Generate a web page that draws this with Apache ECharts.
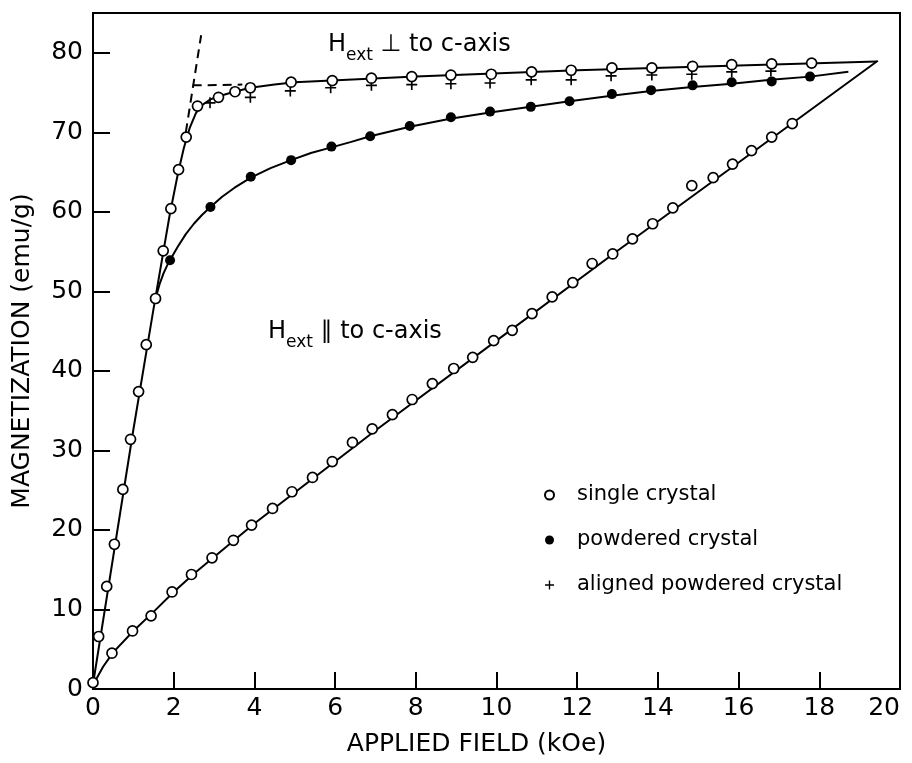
<!DOCTYPE html>
<html><head><meta charset="utf-8">
<script src="https://cdn.jsdelivr.net/npm/echarts@6/dist/echarts.min.js"></script>
<style>html,body{margin:0;padding:0;background:#fff}#c{width:912px;height:763px}</style>
</head><body><div id="c"></div>
<script>
// ---- tick values ----
const xTicks = [0, 2, 4, 6, 8, 10, 12, 14, 16, 18, 20];
const yTicks = [0, 10, 20, 30, 40, 50, 60, 70, 80];

// ---- measured points: single crystal, H perpendicular to c-axis ----
const singlePerp = [
  [0.00, 0.8], [0.14, 6.6], [0.34, 12.9], [0.53, 18.2], [0.74, 25.1], [0.93, 31.4],
  [1.13, 37.4], [1.32, 43.3], [1.55, 49.1], [1.74, 55.1], [1.93, 60.4], [2.12, 65.3],
  [2.31, 69.4], [2.59, 73.3], [3.11, 74.4], [3.52, 75.1], [3.90, 75.6], [4.91, 76.3],
  [5.93, 76.5], [6.90, 76.8], [7.90, 77.0], [8.87, 77.2], [9.87, 77.3], [10.87, 77.6],
  [11.85, 77.8], [12.86, 78.1], [13.85, 78.1], [14.86, 78.3], [15.83, 78.5], [16.82, 78.6],
  [17.81, 78.7]
];
// ---- single crystal, H parallel to c-axis ----
const singlePar = [
  [0.47, 4.5], [0.98, 7.3], [1.44, 9.2], [1.96, 12.2], [2.44, 14.4], [2.95, 16.5],
  [3.48, 18.7], [3.93, 20.6], [4.45, 22.7], [4.93, 24.8], [5.44, 26.6], [5.93, 28.6],
  [6.43, 31.0], [6.92, 32.7], [7.42, 34.5], [7.91, 36.4], [8.41, 38.4], [8.94, 40.3],
  [9.41, 41.7], [9.93, 43.8], [10.39, 45.1], [10.88, 47.2], [11.38, 49.3], [11.89, 51.1],
  [12.37, 53.5], [12.88, 54.7], [13.37, 56.6], [13.87, 58.5], [14.37, 60.5], [14.84, 63.3],
  [15.37, 64.3], [15.85, 66.0], [16.32, 67.7], [16.82, 69.4], [17.33, 71.1]
];
// ---- powdered crystal ----
const powdered = [
  [1.91, 53.9], [2.91, 60.6], [3.91, 64.4], [4.91, 66.5], [5.91, 68.2], [6.87, 69.5],
  [7.85, 70.8], [8.87, 71.9], [9.84, 72.6], [10.85, 73.2], [11.81, 73.9], [12.86, 74.8],
  [13.83, 75.3], [14.86, 75.9], [15.83, 76.3], [16.82, 76.4], [17.77, 77.0]
];
// ---- aligned powdered crystal ----
const aligned = [
  [2.90, 73.7], [3.90, 74.4], [4.89, 75.2], [5.89, 75.6], [6.90, 75.9], [7.90, 76.0],
  [8.87, 76.1], [9.84, 76.2], [10.86, 76.6], [11.85, 76.6], [12.84, 77.1], [13.85, 77.2],
  [14.84, 77.3], [15.83, 77.6], [16.80, 77.7]
];
// ---- hand-drawn guide curves ----
const perpFit = [
  [0, 0.6], [0.5, 16.6], [1, 32.6], [1.5, 47.8], [1.9, 59.6], [2.1, 64.7], [2.25, 68.0],
  [2.4, 70.6], [2.55, 72.4], [2.7, 73.4], [2.9, 74.1], [3.1, 74.5], [3.5, 75.1], [3.9, 75.6],
  [4.5, 76.0], [5, 76.3], [8, 77.0], [12, 77.8], [16, 78.4], [19.42, 78.9]
];
const parFit = [
  [0, 0.5], [0.25, 2.8], [0.5, 4.6], [1, 7.3], [1.5, 9.7], [2, 12.2], [2.5, 14.5], [3, 16.6],
  [3.5, 18.7], [4, 20.8], [5, 24.7], [7, 32.5], [10, 43.8], [13, 55.1], [16, 66.2], [19.45, 79.0]
];
const powFit = [
  [1.55, 49.1], [1.65, 50.9], [1.75, 52.3], [1.85, 53.4], [1.95, 54.3], [2.1, 55.6], [2.3, 57.2],
  [2.5, 58.5], [2.7, 59.6], [2.91, 60.6], [3.2, 61.9], [3.5, 63.0], [3.91, 64.3], [4.4, 65.5],
  [4.91, 66.5], [5.4, 67.4], [5.91, 68.1], [6.4, 68.8], [6.87, 69.5], [7.85, 70.7], [8.85, 71.7],
  [9.84, 72.5], [10.85, 73.2], [11.81, 73.9], [12.85, 74.6], [13.83, 75.2], [14.85, 75.7],
  [15.83, 76.1], [16.8, 76.6], [17.77, 77.0], [18.72, 77.6]
];
const dashSteep = [[2.30, 70.0], [2.68, 82.2]];
const dashFlat = [[2.47, 75.9], [3.70, 76.0]];

const FONT = 'DejaVu Sans';
const INK = '#000';
const plusPath = 'path://M4.25,0h1.5v10h-1.5z M0,4.25h10v1.5h-10z';

const chart = echarts.init(document.getElementById('c'), null, {renderer: 'canvas'});
const lineBase = {type: 'line', showSymbol: false, symbol: 'none', silent: true,
  smooth: false, lineStyle: {color: INK, width: 2}, z: 2};

chart.setOption({
  animation: false,
  backgroundColor: '#fff',
  grid: {left: 93, right: 12, top: 13, bottom: 74, show: true, borderColor: INK, borderWidth: 2,
    outerBoundsMode: 'none', containLabel: false},
  xAxis: {
    type: 'value', min: 0, max: 20,
    axisLine: {show: true, onZero: false, lineStyle: {color: INK, width: 2}},
    axisTick: {show: true, inside: true, length: 17, customValues: xTicks, lineStyle: {color: INK, width: 2}},
    axisLabel: {customValues: xTicks, fontFamily: FONT, fontSize: 25, color: INK, margin: 7,
      alignMaxLabel: 'right'},
    splitLine: {show: false},
    name: 'APPLIED FIELD (kOe)', nameLocation: 'middle', nameGap: 43,
    nameTextStyle: {fontFamily: FONT, fontSize: 25, color: INK, padding: [0, 40, 0, 0]}
  },
  yAxis: {
    type: 'value', min: 0, max: 85,
    axisLine: {show: true, onZero: false, lineStyle: {color: INK, width: 2}},
    axisTick: {show: true, inside: true, length: 17, customValues: yTicks, lineStyle: {color: INK, width: 2}},
    axisLabel: {customValues: yTicks, fontFamily: FONT, fontSize: 25, color: INK, margin: 10},
    splitLine: {show: false},
    name: 'MAGNETIZATION (emu/g)', nameLocation: 'middle', nameGap: 58, nameRotate: 90,
    nameTextStyle: {fontFamily: FONT, fontSize: 25, color: INK}
  },
  legend: {
    data: ['single crystal', 'powdered crystal', 'aligned powdered crystal'],
    orient: 'vertical', left: 539, top: 479, itemWidth: 9, itemHeight: 9, itemGap: 23,
    selectedMode: false,
    textStyle: {fontFamily: FONT, fontSize: 21, color: INK, lineHeight: 22, padding: [0, 0, 0, 18]}
  },
  graphic: [
    {type: 'text', left: 328, top: 33, silent: true, style: {
      text: '{h|H}{s|ext}{h| ⊥ to c-axis}', fill: INK, fontFamily: FONT,
      rich: {h: {fontFamily: FONT, fontSize: 24, lineHeight: 25, verticalAlign: 'top', fill: INK},
             s: {fontFamily: FONT, fontSize: 17, lineHeight: 17, padding: [14, 0, 0, 0], verticalAlign: 'top', fill: INK}}
    }},
    {type: 'text', left: 268, top: 320, silent: true, style: {
      text: '{h|H}{s|ext}{h| ∥ to c-axis}', fill: INK, fontFamily: FONT,
      rich: {h: {fontFamily: FONT, fontSize: 24, lineHeight: 25, verticalAlign: 'top', fill: INK},
             s: {fontFamily: FONT, fontSize: 17, lineHeight: 17, padding: [14, 0, 0, 0], verticalAlign: 'top', fill: INK}}
    }}
  ],
  series: [
    Object.assign({}, lineBase, {name: 'perp fit', data: perpFit}),
    Object.assign({}, lineBase, {name: 'par fit', data: parFit}),
    Object.assign({}, lineBase, {name: 'powder fit', data: powFit}),
    Object.assign({}, lineBase, {name: 'dash1', data: dashSteep,
      lineStyle: {color: INK, width: 2, type: [9, 6]}}),
    Object.assign({}, lineBase, {name: 'dash2', data: dashFlat,
      lineStyle: {color: INK, width: 2, type: [9, 6]}}),
    {type: 'scatter', name: 'single crystal', data: singlePerp.concat(singlePar),
      symbol: 'circle', symbolSize: 10, z: 5,
      itemStyle: {color: '#fff', borderColor: INK, borderWidth: 1.7, opacity: 1}},
    {type: 'scatter', name: 'powdered crystal', data: powdered,
      symbol: 'circle', symbolSize: 10, z: 5, itemStyle: {color: INK, opacity: 1}},
    {type: 'scatter', name: 'aligned powdered crystal', data: aligned,
      symbol: plusPath, symbolSize: 11, z: 4, itemStyle: {color: INK, opacity: 1}}
  ]
});
</script>
</body></html>
